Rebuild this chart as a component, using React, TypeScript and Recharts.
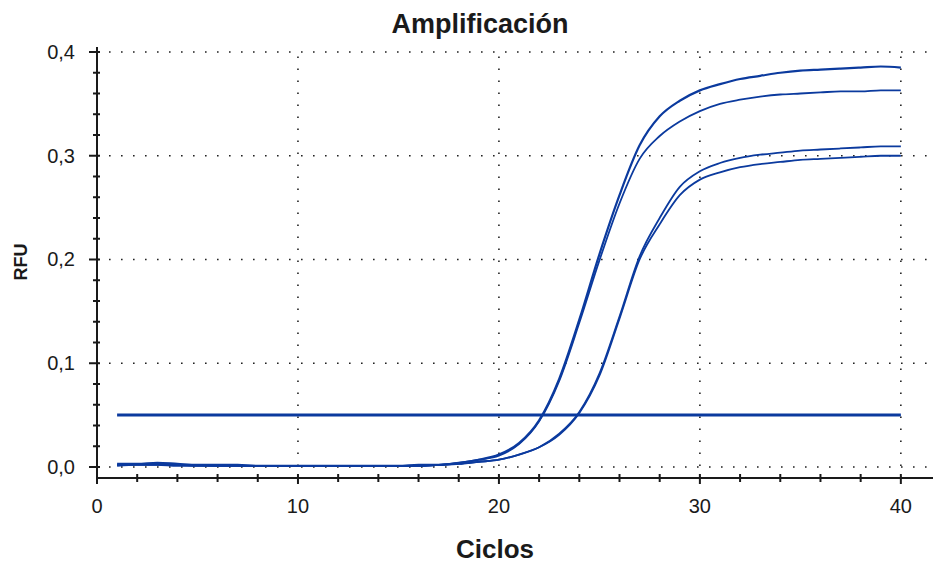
import React from 'react';
import {
  LineChart,
  Line,
  XAxis,
  YAxis,
  ReferenceLine,
} from 'recharts';

// ciclos de amplificación
const cycles = [
  1, 2, 3, 4, 5, 6, 7, 8, 9, 10, 11, 12, 13, 14, 15, 16, 17, 18, 19, 20,
  21, 22, 23, 24, 25, 26, 27, 28, 29, 30, 31, 32, 33, 34, 35, 36, 37, 38, 39, 40,
];

// RFU por pocillo
const wellA = [
  0.003, 0.003, 0.004, 0.003, 0.002, 0.002, 0.002, 0.001, 0.001, 0.001,
  0.001, 0.001, 0.001, 0.001, 0.001, 0.002, 0.002, 0.004, 0.007, 0.012,
  0.023, 0.045, 0.085, 0.142, 0.205, 0.262, 0.31, 0.338, 0.353, 0.363,
  0.369, 0.374, 0.377, 0.38, 0.382, 0.383, 0.384, 0.385, 0.386, 0.385,
];
const wellB = [
  0.002, 0.003, 0.003, 0.002, 0.002, 0.001, 0.001, 0.001, 0.001, 0.001,
  0.001, 0.001, 0.001, 0.001, 0.001, 0.001, 0.002, 0.004, 0.007, 0.011,
  0.022, 0.044, 0.083, 0.139, 0.199, 0.254, 0.297, 0.319, 0.333, 0.343,
  0.35, 0.354, 0.357, 0.359, 0.36, 0.361, 0.362, 0.362, 0.363, 0.363,
];
const wellC = [
  0.002, 0.002, 0.002, 0.002, 0.001, 0.001, 0.001, 0.001, 0.001, 0.001,
  0.001, 0.001, 0.001, 0.001, 0.001, 0.001, 0.002, 0.003, 0.005, 0.007,
  0.012, 0.019, 0.032, 0.053, 0.09, 0.145, 0.203, 0.24, 0.27, 0.285,
  0.293, 0.298, 0.301, 0.303, 0.305, 0.306, 0.307, 0.308, 0.309, 0.309,
];
const wellD = [
  0.001, 0.002, 0.002, 0.001, 0.001, 0.001, 0.001, 0.001, 0.001, 0.001,
  0.001, 0.001, 0.001, 0.001, 0.001, 0.001, 0.002, 0.003, 0.005, 0.007,
  0.012, 0.019, 0.031, 0.052, 0.088, 0.143, 0.2, 0.234, 0.262, 0.277,
  0.284, 0.289, 0.292, 0.294, 0.296, 0.297, 0.298, 0.299, 0.3, 0.3,
];
const threshold = [
  0.05, 0.05, 0.05, 0.05, 0.05, 0.05, 0.05, 0.05, 0.05, 0.05,
  0.05, 0.05, 0.05, 0.05, 0.05, 0.05, 0.05, 0.05, 0.05, 0.05,
  0.05, 0.05, 0.05, 0.05, 0.05, 0.05, 0.05, 0.05, 0.05, 0.05,
  0.05, 0.05, 0.05, 0.05, 0.05, 0.05, 0.05, 0.05, 0.05, 0.05,
];

const xTicks = [0, 2, 4, 6, 8, 10, 12, 14, 16, 18, 20, 22, 24, 26, 28, 30, 32, 34, 36, 38, 40];
const xLabels = [0, 10, 20, 30, 40];
const yTicks = [
  0, 0.02, 0.04, 0.06, 0.08, 0.1, 0.12, 0.14, 0.16, 0.18, 0.2,
  0.22, 0.24, 0.26, 0.28, 0.3, 0.32, 0.34, 0.36, 0.38, 0.4,
];
const yLabels = [0, 0.1, 0.2, 0.3, 0.4];
const gridX = [10, 20, 30, 40];
const gridY = [0, 0.1, 0.2, 0.3, 0.4];

const data = cycles.map((c, i) => ({
  ciclo: c,
  a: wellA[i],
  b: wellB[i],
  c: wellC[i],
  d: wellD[i],
  umbral: threshold[i],
}));

const BLUE = '#0b3a9e';
const INK = '#1a1a1a';
const FONT = '"Liberation Sans", Arial, sans-serif';

const isLabel = (list: number[], v: number) => list.some((l) => Math.abs(l - v) < 1e-9);

const YTick = (props: any) => {
  const { x, y, payload } = props;
  const major = isLabel(yLabels, payload.value);
  return (
    <g>
      <line x1={x - (major ? 8 : 4)} x2={x + 3} y1={y} y2={y} stroke={INK} strokeWidth={2} />
      {major && (
        <text x={x - 22} y={y} dy={7} textAnchor="end" fontFamily={FONT} fontSize={20} fill={INK}>
          {payload.value.toFixed(1).replace('.', ',')}
        </text>
      )}
    </g>
  );
};

const XTick = (props: any) => {
  const { x, y, payload } = props;
  const major = isLabel(xLabels, payload.value);
  return (
    <g>
      <line x1={x} x2={x} y1={y - 4} y2={y + (major ? 6 : 4)} stroke={INK} strokeWidth={2} />
      {major && (
        <text x={x} y={y} dy={35} textAnchor="middle" fontFamily={FONT} fontSize={20} fill={INK}>
          {payload.value}
        </text>
      )}
    </g>
  );
};

const TopTick = (props: any) => {
  const { x, y } = props;
  return <line x1={x} x2={x} y1={y - 2} y2={y + 5} stroke={INK} strokeWidth={2} />;
};

const dotted = { stroke: '#222', strokeWidth: 1.6, strokeDasharray: '1.6 10.4' };

export default function App() {
  return (
    <div style={{ position: 'absolute', left: 0, top: 0, width: 933, height: 564, background: '#fff', overflow: 'hidden' }}>
      <LineChart width={933} height={564} data={data} margin={{ top: 47, right: 0, bottom: 0, left: 0 }}>
        <XAxis
          dataKey="ciclo"
          type="number"
          domain={[0, 41.6]}
          ticks={xTicks}
          interval={0}
          height={86}
          tickSize={0}
          tickMargin={0}
          tickLine={false}
          axisLine={{ stroke: INK, strokeWidth: 2 }}
          tick={<XTick />}
        />
        <XAxis
          xAxisId="top"
          orientation="top"
          type="number"
          domain={[0, 41.6]}
          ticks={xTicks}
          interval={0}
          height={0}
          tickSize={0}
          tickMargin={0}
          tickLine={false}
          axisLine={{ stroke: INK, strokeWidth: 2 }}
          tick={<TopTick />}
        />
        <YAxis
          type="number"
          domain={[-0.0106, 0.4048]}
          ticks={yTicks}
          interval={0}
          width={97}
          tickSize={0}
          tickMargin={0}
          tickLine={false}
          axisLine={{ stroke: INK, strokeWidth: 2 }}
          tick={<YTick />}
        />
        {gridY.map((v) => (
          <ReferenceLine key={`gy${v}`} y={v} {...dotted} />
        ))}
        {gridX.map((v) => (
          <ReferenceLine key={`gx${v}`} x={v} {...dotted} />
        ))}
        <Line dataKey="umbral" type="linear" stroke={BLUE} strokeWidth={3} dot={false} isAnimationActive={false} />
        <Line dataKey="d" type="monotone" stroke={BLUE} strokeWidth={1.8} dot={false} isAnimationActive={false} />
        <Line dataKey="c" type="monotone" stroke={BLUE} strokeWidth={1.8} dot={false} isAnimationActive={false} />
        <Line dataKey="b" type="monotone" stroke={BLUE} strokeWidth={1.8} dot={false} isAnimationActive={false} />
        <Line dataKey="a" type="monotone" stroke={BLUE} strokeWidth={2.2} dot={false} isAnimationActive={false} />
      </LineChart>
      <svg width={933} height={564} style={{ position: 'absolute', left: 0, top: 0, pointerEvents: 'none' }}>
        <text x={480} y={33} textAnchor="middle" fontFamily={FONT} fontWeight="bold" fontSize={27} fill={INK}>
          Amplificación
        </text>
        <text x={495} y={558} textAnchor="middle" fontFamily={FONT} fontWeight="bold" fontSize={26} fill={INK}>
          Ciclos
        </text>
        <text
          x={0}
          y={0}
          transform="translate(27 262) rotate(-90)"
          textAnchor="middle"
          fontFamily={FONT}
          fontWeight="bold"
          fontSize={18}
          fill={INK}
        >
          RFU
        </text>
      </svg>
    </div>
  );
}
